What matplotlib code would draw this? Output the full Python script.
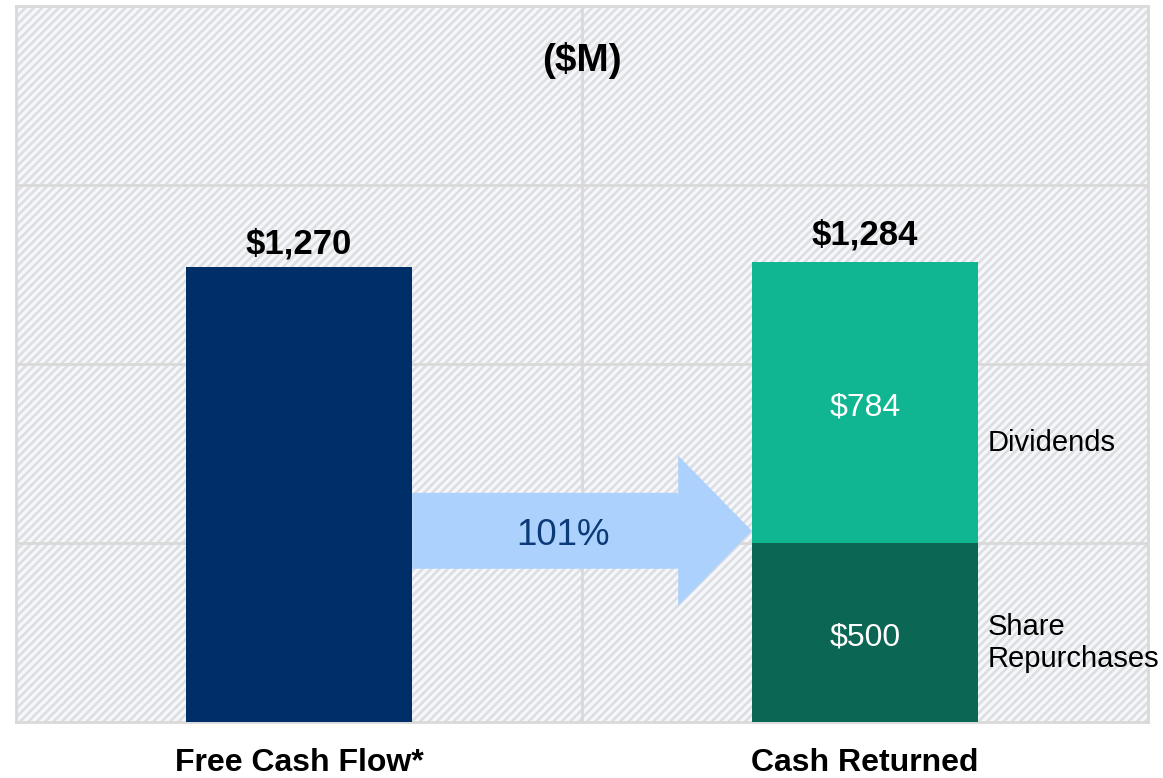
import matplotlib
matplotlib.use("Agg")
import matplotlib.pyplot as plt
from matplotlib.patches import Rectangle, FancyArrow

plt.rcParams['font.family'] = ['Liberation Sans', 'DejaVu Sans']
plt.rcParams['hatch.linewidth'] = 1.9

# data ($M)
categories = ["Free Cash Flow*", "Cash Returned"]
free_cash_flow = 1270
repurchases = 500
dividends = 784
total_returned = repurchases + dividends
payout_label = "101%"

x_pos = [0.5, 1.5]
bar_w = 0.4

fig = plt.figure(figsize=(11.63, 7.78), dpi=100)
ax = fig.add_axes([16/1163, 56/778, 1132/1163, 716/778])

# hatched background
bg = Rectangle((0, 0), 1, 1, transform=ax.transAxes, facecolor='#f6f7fa',
               edgecolor='#dcdee2', linewidth=0, hatch='////', zorder=0)
ax.add_patch(bg)
ax.patch.set_alpha(0)

ax.set_xlim(0, 2)
ax.set_ylim(0, 2000)

for y in [500, 1000, 1500]:
    ax.axhline(y, color='#d9d9d9', lw=2, zorder=1)
ax.axvline(1, color='#d9d9d9', lw=2, zorder=1)
for s in ax.spines.values():
    s.set_color('#d9d9d9')
    s.set_linewidth(2)

ax.bar(x_pos[0], free_cash_flow, width=bar_w, color='#002e69', zorder=3)
ax.bar(x_pos[1], repurchases, width=bar_w, color='#0b6654', zorder=3)
ax.bar(x_pos[1], dividends, bottom=repurchases, width=bar_w, color='#10b592', zorder=3)

# arrow between bars
x0 = x_pos[0] + bar_w / 2
x1 = x_pos[1] - bar_w / 2
arr = FancyArrow(x0, 534, x1 - x0, 0, width=212, head_width=420, head_length=0.13,
                 length_includes_head=True, color='#add1fd', lw=0, zorder=2)
ax.add_patch(arr)
ax.text(0.966, 520, payout_label, ha='center', va='center', fontsize=26.5, color='#0b3a78', zorder=4)

ax.text(x_pos[0], free_cash_flow + 18, "${:,}".format(free_cash_flow), ha='center', va='bottom',
        fontsize=25, fontweight='bold', zorder=4)
ax.text(x_pos[1], total_returned + 30, "${:,}".format(total_returned), ha='center', va='bottom',
        fontsize=25, fontweight='bold', zorder=4)
ax.text(x_pos[1], repurchases + dividends / 2 - 14, "${}".format(dividends), ha='center', va='center',
        fontsize=23, color='white', zorder=4)
ax.text(x_pos[1], repurchases / 2 - 14, "${}".format(repurchases), ha='center', va='center',
        fontsize=23, color='white', zorder=4)

ax.text(1.717, 780, "Dividends", ha='left', va='center', fontsize=21, zorder=4)
ax.text(1.717, 220, "Share\nRepurchases", ha='left', va='center', fontsize=21, zorder=4,
        linespacing=1.2)

ax.text(1, 1848, "($M)", ha='center', va='center', fontsize=28, fontweight='bold', zorder=4)

ax.set_xticks(x_pos)
ax.set_xticklabels(categories, fontsize=23, fontweight='bold')
ax.tick_params(axis='x', length=0, pad=19)
ax.set_yticks([])

fig.savefig("out.png", dpi=100)
